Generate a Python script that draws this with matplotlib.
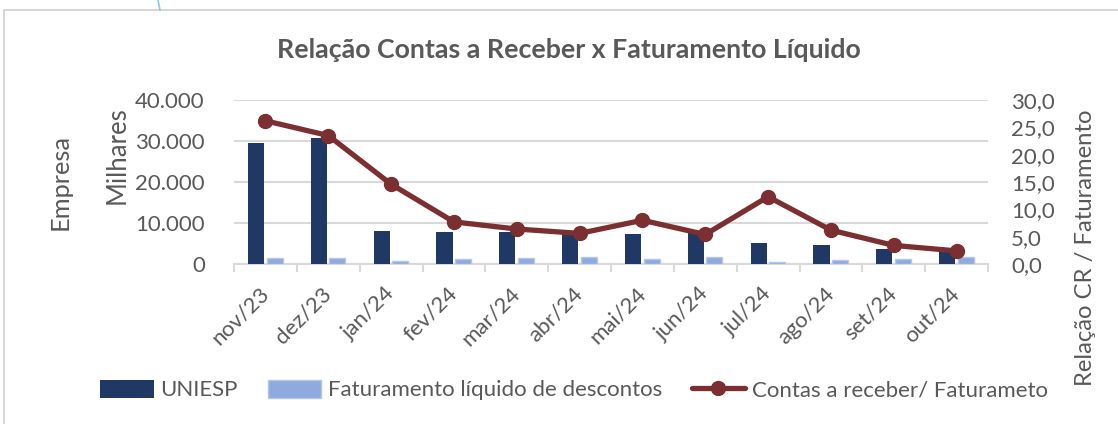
import matplotlib
matplotlib.use("Agg")
import matplotlib.pyplot as plt
import numpy as np
from matplotlib.ticker import FuncFormatter, FixedLocator, NullFormatter
from matplotlib.lines import Line2D
from matplotlib.patches import Rectangle

months = ["nov/23", "dez/23", "jan/24", "fev/24", "mar/24", "abr/24",
          "mai/24", "jun/24", "jul/24", "ago/24", "set/24", "out/24"]
uniesp = [29500, 30800, 8000, 7800, 7700, 7200, 7400, 7500, 5100, 4700, 3700, 2900]
faturamento = [1400, 1550, 700, 1200, 1400, 1600, 1150, 1600, 560, 900, 1200, 1800]
relacao = [26.2, 23.5, 14.6, 7.7, 6.4, 5.6, 8.0, 5.4, 12.3, 6.2, 3.4, 2.4]

FONT = "Lato"
GREY = "#595959"
NAVY = "#203864"
LIGHT = "#8FAADC"
LIGHT_EDGE = "#B4C7E7"
MAROON = "#7C2F31"
GRID = "#D9D9D9"

plt.rcParams["font.family"] = [FONT, "DejaVu Sans"]

W, H = 1118, 424
fig = plt.figure(figsize=(W / 100, H / 100), dpi=100)

# chart frame
fig.patches.append(Rectangle((4 / W, -0.1), 1.2, 1 - 10 / H + 0.1, transform=fig.transFigure,
                             fill=False, edgecolor="#D0D0D0", linewidth=1.2))
fig.lines.append(Line2D([158 / W, 160 / W], [1.0, 1 - 10 / H], transform=fig.transFigure,
                        color="#8CCBDC", linewidth=1.2))

ax = fig.add_axes([234 / W, 1 - 264 / H, (988 - 234) / W, (264 - 100) / H])
x = np.arange(len(months))
bw = 0.255
ax.bar(x - 0.15, uniesp, width=bw, color=NAVY, zorder=3, label="UNIESP")
ax.bar(x + 0.145, faturamento, width=bw, color=LIGHT, edgecolor=LIGHT_EDGE,
       linewidth=1.0, zorder=3, label="Faturamento líquido de descontos")
ax.set_xlim(-0.5, len(months) - 0.5)
ax.set_ylim(0, 40000)
ax.set_yticks([0, 10000, 20000, 30000, 40000])
ax.yaxis.set_major_formatter(FuncFormatter(lambda v, p: f"{int(v):,}".replace(",", ".")))
ax.grid(axis="y", color=GRID, linewidth=1.5, zorder=0)
ax.set_axisbelow(True)
for s in ["top", "right", "left"]:
    ax.spines[s].set_visible(False)
ax.spines["bottom"].set_color(GRID)
ax.spines["bottom"].set_linewidth(1.5)
ax.tick_params(axis="y", length=0, labelsize=16, labelcolor=GREY, pad=21)
ax.xaxis.set_major_locator(FixedLocator(x))
ax.xaxis.set_minor_locator(FixedLocator(np.arange(-0.5, len(months), 1.0)))
ax.set_xticklabels(months, rotation=45, ha="right", va="center", rotation_mode="anchor")
ax.tick_params(axis="x", which="major", length=0, labelsize=16, labelcolor=GREY, pad=19)
ax.tick_params(axis="x", which="minor", length=6, width=1.5, color=GRID)
ax.xaxis.set_minor_formatter(NullFormatter())

ax2 = ax.twinx()
ax2.plot(x, relacao, color=MAROON, linewidth=3.8, marker="o", markersize=10,
         zorder=5, label="Contas a receber/ Faturameto", solid_capstyle="round")
ax2.set_ylim(0, 30)
ax2.set_yticks([0, 5, 10, 15, 20, 25, 30])
ax2.yaxis.set_major_formatter(FuncFormatter(lambda v, p: f"{v:.1f}".replace(".", ",")))
for s in ["top", "right", "left", "bottom"]:
    ax2.spines[s].set_visible(False)
ax2.tick_params(axis="y", length=0, labelsize=16, labelcolor=GREY, pad=16.5)

fig.text(569 / W, 1 - 50 / H, "Relação Contas a Receber x Faturamento Líquido",
         ha="center", va="center", fontsize=19.3, fontweight="bold", color=GREY)
fig.text(60 / W, 1 - 182 / H, "Empresa", rotation=90, ha="center", va="center",
         fontsize=18.3, color=GREY)
fig.text(117 / W, 1 - 155 / H, "Milhares", rotation=90, ha="center", va="center",
         fontsize=18.5, color=GREY)
fig.text(1085 / W, 1 - 248 / H, "Relação CR / Faturamento", rotation=90, ha="center",
         va="center", fontsize=17.2, color=GREY)

h1, l1 = ax.get_legend_handles_labels()
h2, l2 = ax2.get_legend_handles_labels()
leg = fig.legend(h1 + h2, l1 + l2, loc="center", bbox_to_anchor=(574 / W, 1 - 390 / H),
                 ncol=3, frameon=False, fontsize=16, labelcolor=GREY,
                 handlelength=2.4, handleheight=0.9, handletextpad=0.3, columnspacing=1.35)

fig.savefig("out.png", dpi=100)
